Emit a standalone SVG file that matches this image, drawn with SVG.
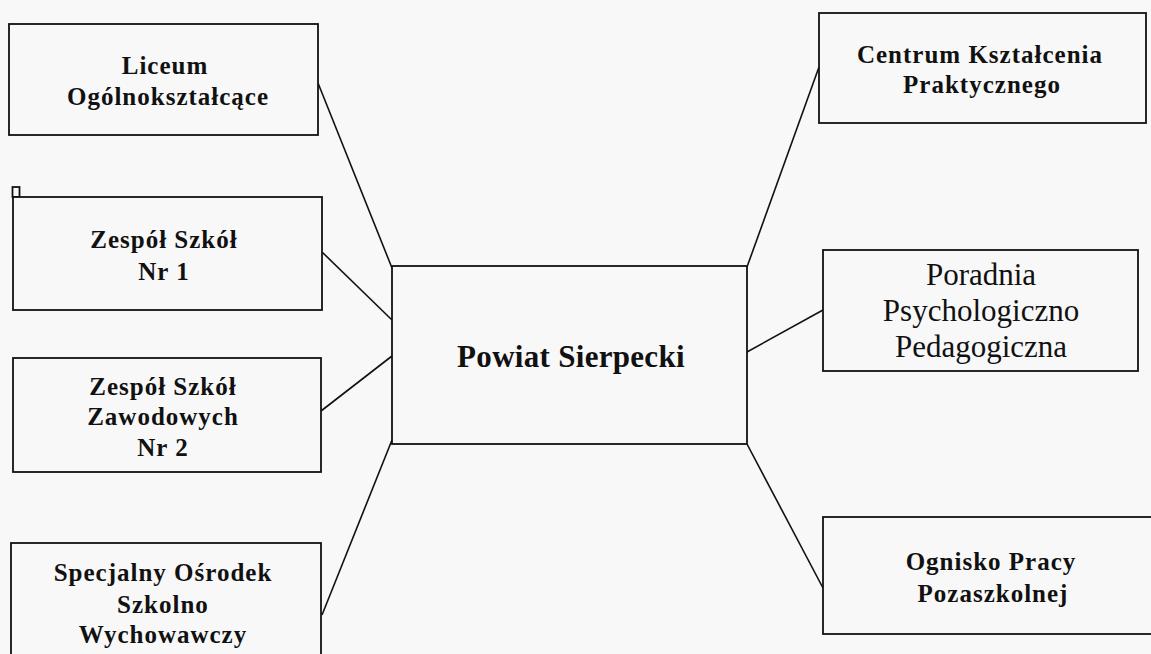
<svg xmlns="http://www.w3.org/2000/svg" width="1151" height="654" viewBox="0 0 1151 654">
<style>
.bg{fill:#f8f8f8}
.box{fill:#f8f8f8;stroke:#111;stroke-width:1.8}
.t{font-family:"Liberation Serif","Times New Roman",serif;font-weight:bold;font-size:25px;letter-spacing:1px;fill:#111;text-anchor:middle}
.c{font-family:"Liberation Serif","Times New Roman",serif;font-weight:bold;font-size:31px;letter-spacing:0.3px;fill:#111;text-anchor:middle}
.r{font-family:"Liberation Serif","Times New Roman",serif;font-size:31px;fill:#111;text-anchor:middle}
.ln{fill:none;stroke:#111;stroke-width:1.6}
</style>
<rect class="bg" x="0" y="0" width="1151" height="654"/>
<g id="connectors">
<line class="ln" x1="318" y1="83" x2="392" y2="268"/>
<line class="ln" x1="322" y1="252" x2="392" y2="320"/>
<line class="ln" x1="321" y1="411" x2="392" y2="356"/>
<line class="ln" x1="322" y1="615" x2="392" y2="440"/>
<line class="ln" x1="747" y1="267" x2="819" y2="67"/>
<line class="ln" x1="747" y1="352" x2="823" y2="310"/>
<line class="ln" x1="747" y1="444" x2="823" y2="588"/>
</g>
<g id="center">
<rect class="box" x="392" y="266" width="355" height="178"/>
<text class="c" x="571" y="367">Powiat Sierpecki</text>
</g>
<g id="liceum">
<rect class="box" x="9" y="24" width="309" height="111"/>
<text class="t" x="165" y="74">Liceum</text>
<text class="t" x="168" y="105">Ogólnokształcące</text>
</g>
<g id="zs1">
<rect class="box" x="12.5" y="187" width="7" height="10"/>
<rect class="box" x="13" y="197" width="309" height="113"/>
<text class="t" x="164" y="248">Zespół Szkół</text>
<text class="t" x="164" y="280">Nr 1</text>
</g>
<g id="zsz2">
<rect class="box" x="13" y="358" width="308" height="114"/>
<text class="t" x="163" y="395">Zespół Szkół</text>
<text class="t" x="163" y="425">Zawodowych</text>
<text class="t" x="163" y="456">Nr 2</text>
</g>
<g id="sosw">
<rect class="box" x="11" y="543" width="310" height="130"/>
<text class="t" x="163" y="581">Specjalny Ośrodek</text>
<text class="t" x="163" y="613">Szkolno</text>
<text class="t" x="163" y="643">Wychowawczy</text>
</g>
<g id="ckp">
<rect class="box" x="819" y="13" width="327" height="110"/>
<text class="t" x="980" y="63">Centrum Kształcenia</text>
<text class="t" x="982" y="93">Praktycznego</text>
</g>
<g id="ppp">
<rect class="box" x="823" y="250" width="315" height="121"/>
<text class="r" x="981" y="285">Poradnia</text>
<text class="r" x="981" y="321">Psychologiczno</text>
<text class="r" x="981" y="357">Pedagogiczna</text>
</g>
<g id="opp">
<rect class="box" x="823" y="517" width="340" height="117"/>
<text class="t" x="991" y="570">Ognisko Pracy</text>
<text class="t" x="993" y="602">Pozaszkolnej</text>
</g>
</svg>
